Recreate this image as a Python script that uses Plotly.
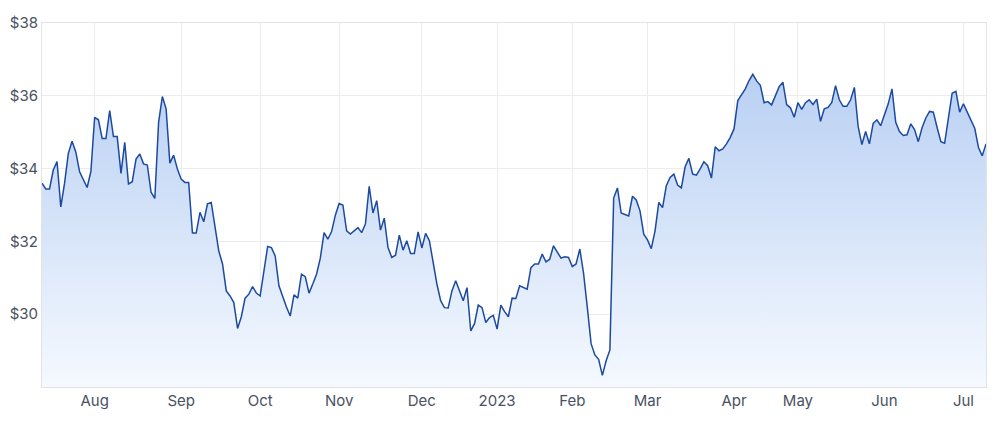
import pandas as pd
import plotly.graph_objects as go

# ASX trading calendar (non-trading weekdays in the period)
HOLIDAYS = ['2022-09-22', '2022-12-26', '2022-12-27', '2023-01-02', '2023-01-26',
            '2023-04-07', '2023-04-10', '2023-04-25', '2023-06-12']
START, END = '2022-07-12', '2023-07-11'

PRICES = [
    33.60, 33.44, 33.44, 33.96, 34.19, 32.95, 33.60, 34.42, 34.75, 34.45,
    33.91, 33.70, 33.48, 33.92, 35.41, 35.34, 34.83, 34.83, 35.59, 34.88,
    34.88, 33.87, 34.72, 33.58, 33.64, 34.26, 34.40, 34.13, 34.10, 33.35,
    33.18, 35.27, 35.98, 35.64, 34.15, 34.37, 33.99, 33.71, 33.62, 33.62,
    32.23, 32.23, 32.80, 32.54, 33.03, 33.07, 32.35, 31.74, 31.38, 30.64,
    30.50, 30.32, 29.61, 29.93, 30.44, 30.55, 30.76, 30.58, 30.50, 31.19,
    31.86, 31.83, 31.60, 30.78, 30.46, 30.20, 29.95, 30.53, 30.44, 31.10,
    31.03, 30.58, 30.83, 31.10, 31.54, 32.24, 32.06, 32.27, 32.72, 33.04,
    33.00, 32.29, 32.20, 32.29, 32.38, 32.24, 32.48, 33.51, 32.78, 33.12,
    32.31, 32.64, 31.83, 31.56, 31.62, 32.17, 31.76, 32.02, 31.67, 31.67,
    32.26, 31.82, 32.22, 32.02, 31.42, 30.83, 30.37, 30.18, 30.17, 30.64,
    30.92, 30.64, 30.37, 30.73, 29.54, 29.74, 30.25, 30.18, 29.77, 29.91,
    29.97, 29.59, 30.25, 30.07, 29.93, 30.44, 30.43, 30.78, 30.73, 30.69,
    31.28, 31.38, 31.38, 31.65, 31.44, 31.51, 31.88, 31.71, 31.54, 31.58,
    31.56, 31.31, 31.38, 31.79, 31.12, 30.18, 29.19, 28.88, 28.76, 28.32,
    28.72, 29.02, 33.19, 33.47, 32.78, 32.74, 32.70, 33.24, 33.14, 32.84,
    32.20, 32.04, 31.80, 32.29, 33.07, 32.93, 33.53, 33.76, 33.85, 33.55,
    33.47, 34.05, 34.28, 33.85, 33.82, 33.99, 34.19, 34.08, 33.74, 34.60,
    34.49, 34.54, 34.68, 34.86, 35.09, 35.87, 36.05, 36.19, 36.42, 36.59,
    36.41, 36.29, 35.81, 35.84, 35.75, 36.01, 36.25, 36.37, 35.76, 35.67,
    35.41, 35.81, 35.63, 35.81, 35.89, 35.76, 35.91, 35.30, 35.64, 35.68,
    35.82, 36.28, 35.89, 35.71, 35.71, 35.89, 36.23, 35.16, 34.66, 35.02,
    34.68, 35.24, 35.34, 35.18, 35.46, 35.78, 36.19, 35.27, 35.02, 34.91,
    34.93, 35.23, 35.07, 34.74, 35.12, 35.39, 35.57, 35.55, 35.13, 34.74,
    34.70, 35.46, 36.07, 36.12, 35.55, 35.78, 35.55, 35.30, 35.11, 34.58,
    34.35, 34.68,
]

TICK_LABELS = ['Aug', 'Sep', 'Oct', 'Nov', 'Dec', '2023', 'Feb', 'Mar', 'Apr', 'May', 'Jun', 'Jul']
Y_TICKS = [30, 32, 34, 36, 38]

dates = pd.bdate_range(START, END, freq='C', holidays=HOLIDAYS)
n = min(len(dates), len(PRICES))
dates = dates[:n]
prices = PRICES[:n]
x = [d.strftime('%Y-%m-%d') for d in dates]

# first trading day of each month after the first (partial) month
s = pd.Series(dates)
firsts = s.groupby([s.dt.year, s.dt.month]).min().sort_values().tolist()[1:]
tickvals = [d.strftime('%Y-%m-%d') for d in firsts][:len(TICK_LABELS)]

fig = go.Figure()
fig.add_trace(go.Scatter(
    x=x, y=prices, mode='lines',
    line=dict(color='#1c4aa0', width=1.5),
    fill='tozeroy',
    fillgradient=dict(type='vertical', start=28, stop=36.6,
                      colorscale=[[0, 'rgba(245,249,255,1)'], [1, 'rgba(185,208,243,1)']]),
    hoverinfo='skip', showlegend=False,
))

grid = '#ececec'
fig.update_layout(
    width=1000, height=423,
    margin=dict(l=42, r=14, t=23, b=36),
    paper_bgcolor='white', plot_bgcolor='white',
    font=dict(family='Inter, Roboto, sans-serif', size=15, color='#4a5162'),
    xaxis=dict(type='category', range=[0, n - 1], tickmode='array',
               tickvals=tickvals, ticktext=TICK_LABELS[:len(tickvals)],
               showgrid=True, gridcolor=grid, gridwidth=1,
               showline=True, linecolor='#e3e3e3', mirror=True,
               ticks='', tickangle=0, zeroline=False, automargin=False),
    yaxis=dict(range=[28, 38], tickmode='array', tickvals=Y_TICKS,
               ticktext=['$%d' % v for v in Y_TICKS],
               showgrid=True, gridcolor=grid, gridwidth=1,
               showline=True, linecolor='#e3e3e3', mirror=True,
               ticks='', zeroline=False, automargin=False),
)

fig.write_html('out.html')
